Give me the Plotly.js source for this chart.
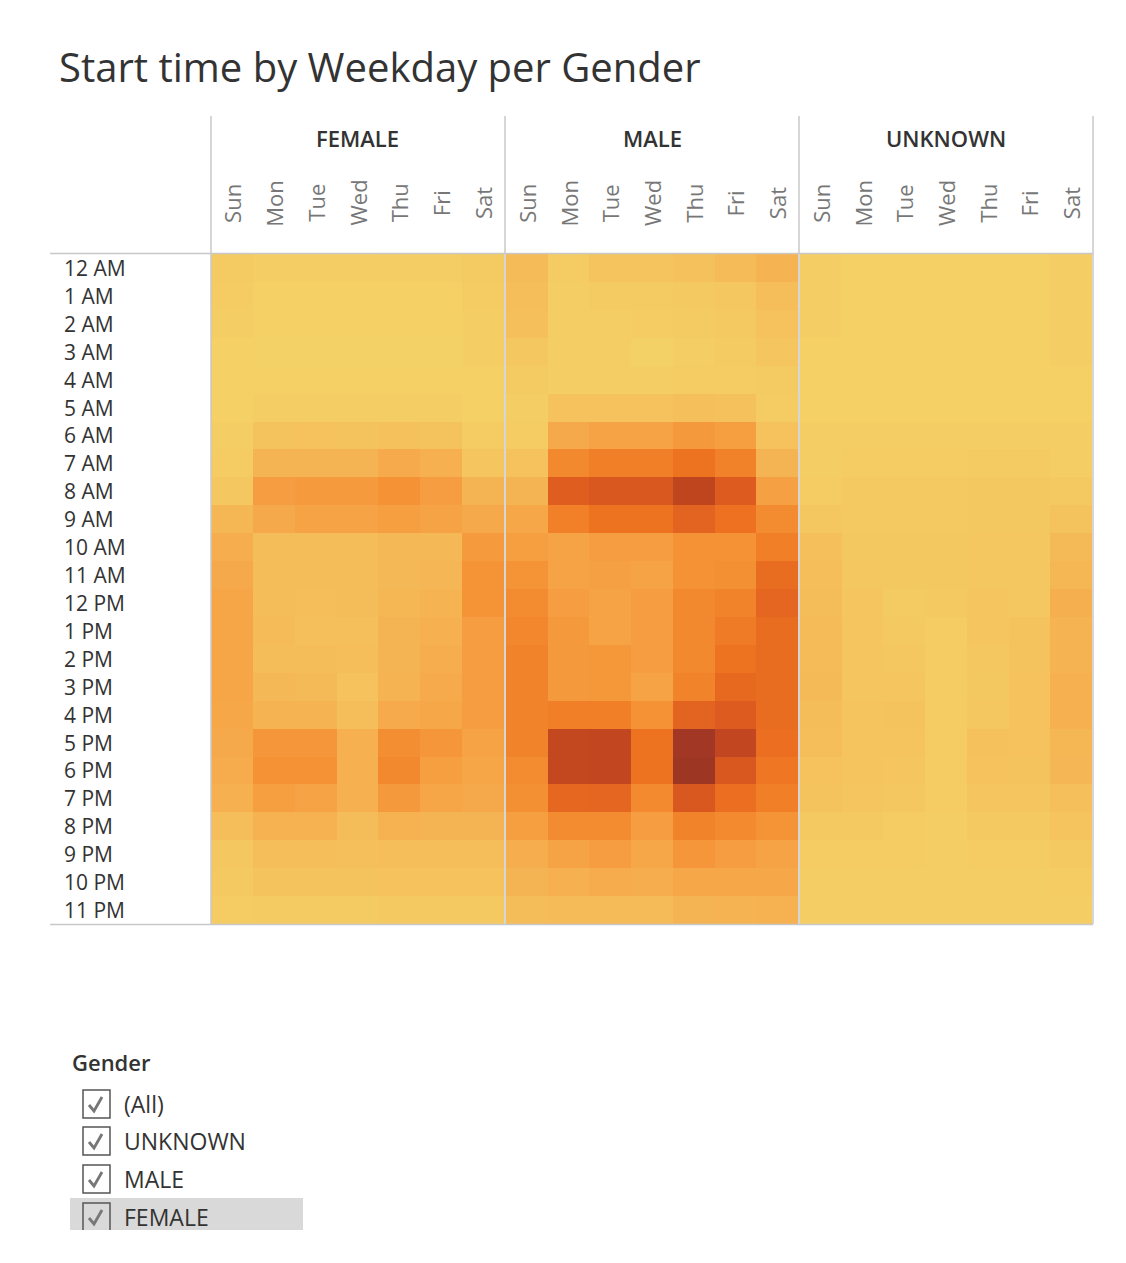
<!DOCTYPE html>
<html><head><meta charset="utf-8">
<script src="https://cdn.plot.ly/plotly-3.0.1.min.js"></script>
<style>body{margin:0;background:#fff}#chart{width:1126px;height:1263px}</style>
</head><body><div id="chart"></div>
<script>
const hours = ['12 AM','1 AM','2 AM','3 AM','4 AM','5 AM','6 AM','7 AM','8 AM','9 AM','10 AM','11 AM',
               '12 PM','1 PM','2 PM','3 PM','4 PM','5 PM','6 PM','7 PM','8 PM','9 PM','10 PM','11 PM'];
const days = ['Sun','Mon','Tue','Wed','Thu','Fri','Sat'];
const genders = ['FEMALE','MALE','UNKNOWN'];
const filterItems = ['(All)','UNKNOWN','MALE','FEMALE'];

const female = [
[5,2,2,2,3,3,5],[4,1,1,1,1,1,4],[3,1,1,1,1,1,3],[1,0,0,0,0,0,2],[1,1,1,1,1,1,1],[1,3,3,3,3,3,1],
[2,11,12,11,13,11,4],[4,22,22,22,29,25,9],[8,36,37,37,42,36,22],[21,30,33,33,35,33,30],
[27,16,16,16,19,19,37],[30,16,16,16,19,20,41],[32,16,15,16,21,23,41],[32,17,14,14,22,25,36],
[32,16,16,15,22,27,36],[32,19,18,12,23,29,36],[31,23,23,15,29,31,36],[30,40,40,25,44,40,33],
[28,42,42,25,47,35,32],[25,35,33,25,38,32,30],[15,24,24,16,24,22,22],[8,15,15,14,15,15,15],
[6,11,11,11,12,12,12],[4,5,5,5,6,6,6]];
const male = [
[17,4,10,10,13,17,23],[15,2,5,5,6,8,15],[14,2,3,4,5,6,12],[8,2,2,0,3,5,9],[5,3,3,3,4,4,5],
[2,12,12,12,14,13,4],[4,30,33,33,38,35,12],[12,47,53,53,60,51,22],[22,74,77,77,89,75,34],
[31,52,60,60,70,61,45],[35,33,36,36,42,42,53],[41,33,34,33,42,43,64],[45,36,33,36,47,50,68],
[48,38,33,36,47,55,64],[50,38,39,36,47,60,64],[50,38,39,33,50,66,64],[50,53,53,42,70,75,64],
[50,87,88,60,99,88,63],[45,87,88,60,100,77,58],[43,67,68,46,77,63,53],[35,45,45,36,50,46,41],
[27,33,36,31,40,36,33],[22,25,28,27,31,31,31],[16,17,17,17,22,23,24]];
const unknown = [
[3,1,1,1,1,1,3],[2,1,1,1,1,1,2],[2,1,1,1,1,1,2],[1,1,1,1,1,1,2],[1,1,1,1,1,1,1],[1,1,1,1,1,1,1],
[2,2,2,2,3,3,2],[3,4,4,4,5,5,3],[4,6,6,6,7,7,6],[8,6,6,6,7,7,11],[14,7,7,7,8,8,18],
[15,8,7,7,8,8,21],[16,9,5,6,9,8,26],[17,9,6,4,9,11,23],[17,9,8,4,8,11,23],[18,9,9,4,7,12,25],
[16,10,11,4,8,12,25],[15,10,10,4,13,12,21],[12,10,9,4,12,11,20],[11,9,8,4,9,9,14],
[6,6,4,3,6,6,10],[4,4,4,3,4,4,6],[3,3,3,2,3,3,4],[2,2,2,2,2,2,2]];

const W = 1126, H = 1263;
const X = p => p / W, Y = p => 1 - p / H;
const colorscale = [[0,'#F4D166'],[0.15,'#F5BE5B'],[0.3,'#F6A94A'],[0.45,'#F38C30'],
  [0.6,'#EE7321'],[0.75,'#DD5B1F'],[0.88,'#C2461F'],[1,'#9E3624']];
const panels = [[211,504],[506,798],[800,1092]];
const series = [female, male, unknown];
const axIds = ['x','x2','x3'];

const traces = series.map((z,i) => ({
  type:'heatmap', z:z, x:days, y:hours, xaxis:axIds[i], yaxis:'y',
  colorscale:colorscale, zmin:0, zmax:100, showscale:false, hoverongaps:false
}));

const layout = {
  width:W, height:H, margin:{l:0,r:0,t:0,b:0}, paper_bgcolor:'#fff', plot_bgcolor:'#fff',
  font:{family:'Open Sans, sans-serif', color:'#333'},
  title:{text:'Start time by Weekday per Gender', x:X(59), xanchor:'left', xref:'paper',
         y:Y(68), yanchor:'middle', yref:'paper', font:{size:40,color:'#333'}},
  yaxis:{domain:[Y(924),Y(254)], type:'category', categoryorder:'array', categoryarray:hours,
         range:[23.5,-0.5], showticklabels:false, ticks:'', ticklen:0, showgrid:false, zeroline:false,
         showline:false, fixedrange:true},
  showlegend:false, annotations:[], shapes:[]
};
axIds.forEach((a,i) => {
  const key = a==='x' ? 'xaxis' : 'xaxis'+a.slice(1);
  layout[key] = {domain:[X(panels[i][0]),X(panels[i][1])], anchor:'y', type:'category',
    categoryorder:'array', categoryarray:days, range:[-0.5,6.5], showticklabels:false, ticks:'', ticklen:0,
    showgrid:false, zeroline:false, showline:false, fixedrange:true};
});

// hour labels (left aligned)
hours.forEach(h => layout.annotations.push({x:X(62), xref:'paper', xanchor:'left', y:h, yref:'y',
  yanchor:'middle', text:h, showarrow:false, font:{size:21,color:'#333'}}));
// panel headers & day labels
genders.forEach((g,i) => {
  layout.annotations.push({x:(X(panels[i][0])+X(panels[i][1]))/2, xref:'paper', y:Y(138), yref:'paper',
    xanchor:'center', yanchor:'middle', text:g, showarrow:false, font:{size:22,color:'#333',weight:600}});
  days.forEach(d => layout.annotations.push({x:d, xref:axIds[i], y:Y(203), yref:'paper', text:d,
    textangle:-90, xanchor:'center', yanchor:'middle', showarrow:false, font:{size:22,color:'#777'}}));
});

const lineC = '#c8c8c8';
const L = (x0,y0,x1,y1,c,w) => ({type:'line', xref:'paper', yref:'paper', x0:X(x0), y0:Y(y0), x1:X(x1), y1:Y(y1),
  line:{color:c||lineC, width:w||1.5}, layer:'above'});
layout.shapes.push(L(50,253.5,1093,253.5));
layout.shapes.push(L(50,924.5,1093,924.5));
[211,505,799,1093].forEach(x => layout.shapes.push(L(x,116,x,924)));

// filter card
layout.annotations.push({x:X(70), xref:'paper', xanchor:'left', y:Y(1062), yref:'paper', yanchor:'middle',
  text:'Gender', showarrow:false, font:{size:22,color:'#333',weight:600}});
layout.shapes.push({type:'rect', xref:'paper', yref:'paper', x0:X(70), x1:X(303), y0:Y(1230), y1:Y(1198),
  fillcolor:'#d9d9d9', line:{width:0}, layer:'below'});
const centers = [1104,1141,1179,1217];
filterItems.forEach((t,i) => {
  const cy = centers[i];
  const top = cy-14, bot = Math.min(cy+14,1230);
  let p = `M${X(83)},${Y(bot)} L${X(83)},${Y(top)} L${X(110)},${Y(top)} L${X(110)},${Y(bot)}`;
  if (cy+14 <= 1230) p += ' Z';
  layout.shapes.push({type:'path', xref:'paper', yref:'paper', path:p, fillcolor: i===3?'rgba(0,0,0,0)':'#fff',
    line:{color:'#555', width:1.5}, layer:'above'});
  layout.shapes.push({type:'path', xref:'paper', yref:'paper',
    path:`M${X(89)},${Y(cy+1)} L${X(94)},${Y(cy+7)} L${X(102)},${Y(cy-7)}`,
    line:{color:'#777', width:2.8}, layer:'above'});
  layout.annotations.push({x:X(122), xref:'paper', xanchor:'left', y:Y(cy), yref:'paper', yanchor:'middle',
    text:t, showarrow:false, font:{size:23,color:'#333'}});
});

Plotly.newPlot('chart', traces, layout, {staticPlot:true, displayModeBar:false});
</script></body></html>
